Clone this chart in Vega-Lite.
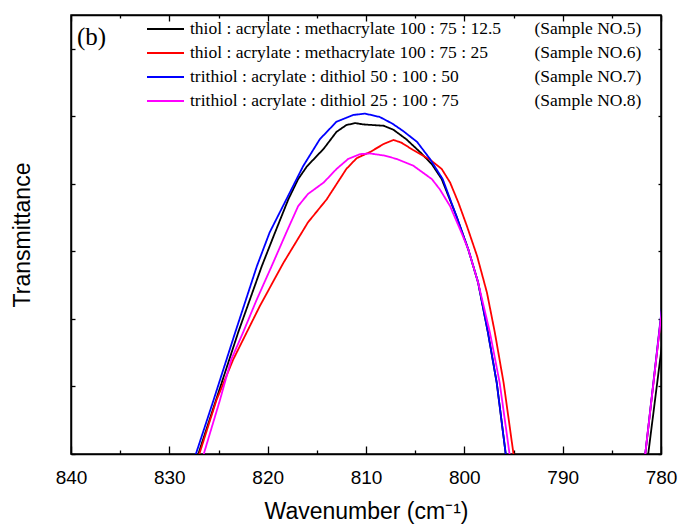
{
  "$schema": "https://vega.github.io/schema/vega-lite/v6.json",
  "width": 590,
  "height": 439,
  "autosize": {"type": "none"},
  "padding": {"left": 71, "top": 15, "right": 18, "bottom": 71},
  "background": "white",
  "config": {
    "view": {"stroke": "black", "strokeWidth": 1.5},
    "font": "Liberation Sans",
    "axis": {
      "domainColor": "black", "domainWidth": 1.5,
      "tickColor": "black", "tickWidth": 1.3,
      "labelColor": "black", "labelFont": "Liberation Sans", "labelFontSize": 19,
      "titleColor": "black", "titleFont": "Liberation Sans", "titleFontSize": 23, "titleFontWeight": "normal",
      "grid": false
    }
  },
  "title": {
    "text": "(b)", "font": "Liberation Serif", "fontSize": 25, "fontWeight": "normal",
    "color": "black", "anchor": "start", "frame": "group", "offset": 0, "dx": 6, "dy": 36
  },
  "data": {
    "values": [
      {"s": "thiol : acrylate : methacrylate 100 : 75 : 12.5", "n": "(Sample NO.5)", "w": 829, "t": -0.9},
      {"s": "thiol : acrylate : methacrylate 100 : 75 : 12.5", "n": "(Sample NO.5)", "w": 827.05, "t": 0},
      {"s": "thiol : acrylate : methacrylate 100 : 75 : 12.5", "n": "(Sample NO.5)", "w": 825.25, "t": 0.8},
      {"s": "thiol : acrylate : methacrylate 100 : 75 : 12.5", "n": "(Sample NO.5)", "w": 823.0, "t": 1.8},
      {"s": "thiol : acrylate : methacrylate 100 : 75 : 12.5", "n": "(Sample NO.5)", "w": 820.6, "t": 2.78},
      {"s": "thiol : acrylate : methacrylate 100 : 75 : 12.5", "n": "(Sample NO.5)", "w": 819.25, "t": 3.28},
      {"s": "thiol : acrylate : methacrylate 100 : 75 : 12.5", "n": "(Sample NO.5)", "w": 817.9, "t": 3.77},
      {"s": "thiol : acrylate : methacrylate 100 : 75 : 12.5", "n": "(Sample NO.5)", "w": 816.9, "t": 4.07},
      {"s": "thiol : acrylate : methacrylate 100 : 75 : 12.5", "n": "(Sample NO.5)", "w": 816.0, "t": 4.26},
      {"s": "thiol : acrylate : methacrylate 100 : 75 : 12.5", "n": "(Sample NO.5)", "w": 814.3, "t": 4.52},
      {"s": "thiol : acrylate : methacrylate 100 : 75 : 12.5", "n": "(Sample NO.5)", "w": 813.0, "t": 4.77},
      {"s": "thiol : acrylate : methacrylate 100 : 75 : 12.5", "n": "(Sample NO.5)", "w": 812.0, "t": 4.87},
      {"s": "thiol : acrylate : methacrylate 100 : 75 : 12.5", "n": "(Sample NO.5)", "w": 811.1, "t": 4.9},
      {"s": "thiol : acrylate : methacrylate 100 : 75 : 12.5", "n": "(Sample NO.5)", "w": 810.3, "t": 4.88},
      {"s": "thiol : acrylate : methacrylate 100 : 75 : 12.5", "n": "(Sample NO.5)", "w": 808.2, "t": 4.86},
      {"s": "thiol : acrylate : methacrylate 100 : 75 : 12.5", "n": "(Sample NO.5)", "w": 807.2, "t": 4.8},
      {"s": "thiol : acrylate : methacrylate 100 : 75 : 12.5", "n": "(Sample NO.5)", "w": 805.9, "t": 4.66},
      {"s": "thiol : acrylate : methacrylate 100 : 75 : 12.5", "n": "(Sample NO.5)", "w": 804.5, "t": 4.47},
      {"s": "thiol : acrylate : methacrylate 100 : 75 : 12.5", "n": "(Sample NO.5)", "w": 803.3, "t": 4.29},
      {"s": "thiol : acrylate : methacrylate 100 : 75 : 12.5", "n": "(Sample NO.5)", "w": 802.3, "t": 4.07},
      {"s": "thiol : acrylate : methacrylate 100 : 75 : 12.5", "n": "(Sample NO.5)", "w": 800.8, "t": 3.52},
      {"s": "thiol : acrylate : methacrylate 100 : 75 : 12.5", "n": "(Sample NO.5)", "w": 799.6, "t": 3.03},
      {"s": "thiol : acrylate : methacrylate 100 : 75 : 12.5", "n": "(Sample NO.5)", "w": 798.6, "t": 2.54},
      {"s": "thiol : acrylate : methacrylate 100 : 75 : 12.5", "n": "(Sample NO.5)", "w": 797.6, "t": 1.8},
      {"s": "thiol : acrylate : methacrylate 100 : 75 : 12.5", "n": "(Sample NO.5)", "w": 796.7, "t": 1.05},
      {"s": "thiol : acrylate : methacrylate 100 : 75 : 12.5", "n": "(Sample NO.5)", "w": 795.8, "t": 0.01},
      {"s": "thiol : acrylate : methacrylate 100 : 75 : 12.5", "n": "(Sample NO.5)", "w": 795.2, "t": -0.7},
      {"s": "thiol : acrylate : methacrylate 100 : 75 : 12.5", "n": "(Sample NO.5)", "w": 781.9, "t": -0.7},
      {"s": "thiol : acrylate : methacrylate 100 : 75 : 12.5", "n": "(Sample NO.5)", "w": 781.3, "t": 0},
      {"s": "thiol : acrylate : methacrylate 100 : 75 : 12.5", "n": "(Sample NO.5)", "w": 780.0, "t": 1.5},
      {"s": "thiol : acrylate : methacrylate 100 : 75 : 12.5", "n": "(Sample NO.5)", "w": 779.5, "t": 2.08},

      {"s": "thiol : acrylate : methacrylate 100 : 75 : 25", "n": "(Sample NO.6)", "w": 829, "t": -0.9},
      {"s": "thiol : acrylate : methacrylate 100 : 75 : 25", "n": "(Sample NO.6)", "w": 826.95, "t": 0},
      {"s": "thiol : acrylate : methacrylate 100 : 75 : 25", "n": "(Sample NO.6)", "w": 825.2, "t": 0.8},
      {"s": "thiol : acrylate : methacrylate 100 : 75 : 25", "n": "(Sample NO.6)", "w": 823.5, "t": 1.4},
      {"s": "thiol : acrylate : methacrylate 100 : 75 : 25", "n": "(Sample NO.6)", "w": 820.8, "t": 2.19},
      {"s": "thiol : acrylate : methacrylate 100 : 75 : 25", "n": "(Sample NO.6)", "w": 818.4, "t": 2.83},
      {"s": "thiol : acrylate : methacrylate 100 : 75 : 25", "n": "(Sample NO.6)", "w": 815.9, "t": 3.43},
      {"s": "thiol : acrylate : methacrylate 100 : 75 : 25", "n": "(Sample NO.6)", "w": 814.0, "t": 3.77},
      {"s": "thiol : acrylate : methacrylate 100 : 75 : 25", "n": "(Sample NO.6)", "w": 812.0, "t": 4.22},
      {"s": "thiol : acrylate : methacrylate 100 : 75 : 25", "n": "(Sample NO.6)", "w": 810.95, "t": 4.38},
      {"s": "thiol : acrylate : methacrylate 100 : 75 : 25", "n": "(Sample NO.6)", "w": 809.6, "t": 4.47},
      {"s": "thiol : acrylate : methacrylate 100 : 75 : 25", "n": "(Sample NO.6)", "w": 808.2, "t": 4.59},
      {"s": "thiol : acrylate : methacrylate 100 : 75 : 25", "n": "(Sample NO.6)", "w": 807.2, "t": 4.65},
      {"s": "thiol : acrylate : methacrylate 100 : 75 : 25", "n": "(Sample NO.6)", "w": 806.4, "t": 4.61},
      {"s": "thiol : acrylate : methacrylate 100 : 75 : 25", "n": "(Sample NO.6)", "w": 805.2, "t": 4.5},
      {"s": "thiol : acrylate : methacrylate 100 : 75 : 25", "n": "(Sample NO.6)", "w": 803.5, "t": 4.36},
      {"s": "thiol : acrylate : methacrylate 100 : 75 : 25", "n": "(Sample NO.6)", "w": 802.3, "t": 4.22},
      {"s": "thiol : acrylate : methacrylate 100 : 75 : 25", "n": "(Sample NO.6)", "w": 801.45, "t": 4.02},
      {"s": "thiol : acrylate : methacrylate 100 : 75 : 25", "n": "(Sample NO.6)", "w": 800.6, "t": 3.72},
      {"s": "thiol : acrylate : methacrylate 100 : 75 : 25", "n": "(Sample NO.6)", "w": 799.75, "t": 3.38},
      {"s": "thiol : acrylate : methacrylate 100 : 75 : 25", "n": "(Sample NO.6)", "w": 798.7, "t": 2.93},
      {"s": "thiol : acrylate : methacrylate 100 : 75 : 25", "n": "(Sample NO.6)", "w": 797.7, "t": 2.39},
      {"s": "thiol : acrylate : methacrylate 100 : 75 : 25", "n": "(Sample NO.6)", "w": 796.9, "t": 1.8},
      {"s": "thiol : acrylate : methacrylate 100 : 75 : 25", "n": "(Sample NO.6)", "w": 796.0, "t": 1.05},
      {"s": "thiol : acrylate : methacrylate 100 : 75 : 25", "n": "(Sample NO.6)", "w": 795.0, "t": 0},
      {"s": "thiol : acrylate : methacrylate 100 : 75 : 25", "n": "(Sample NO.6)", "w": 794.4, "t": -0.7},
      {"s": "thiol : acrylate : methacrylate 100 : 75 : 25", "n": "(Sample NO.6)", "w": 782.2, "t": -0.75},
      {"s": "thiol : acrylate : methacrylate 100 : 75 : 25", "n": "(Sample NO.6)", "w": 781.6, "t": 0},
      {"s": "thiol : acrylate : methacrylate 100 : 75 : 25", "n": "(Sample NO.6)", "w": 780.0, "t": 2.02},
      {"s": "thiol : acrylate : methacrylate 100 : 75 : 25", "n": "(Sample NO.6)", "w": 779.5, "t": 2.65},

      {"s": "trithiol : acrylate : dithiol 50 : 100 : 50", "n": "(Sample NO.7)", "w": 829, "t": -0.75},
      {"s": "trithiol : acrylate : dithiol 50 : 100 : 50", "n": "(Sample NO.7)", "w": 827.3, "t": 0},
      {"s": "trithiol : acrylate : dithiol 50 : 100 : 50", "n": "(Sample NO.7)", "w": 825.5, "t": 0.8},
      {"s": "trithiol : acrylate : dithiol 50 : 100 : 50", "n": "(Sample NO.7)", "w": 823.3, "t": 1.8},
      {"s": "trithiol : acrylate : dithiol 50 : 100 : 50", "n": "(Sample NO.7)", "w": 821.1, "t": 2.78},
      {"s": "trithiol : acrylate : dithiol 50 : 100 : 50", "n": "(Sample NO.7)", "w": 819.8, "t": 3.28},
      {"s": "trithiol : acrylate : dithiol 50 : 100 : 50", "n": "(Sample NO.7)", "w": 818.1, "t": 3.77},
      {"s": "trithiol : acrylate : dithiol 50 : 100 : 50", "n": "(Sample NO.7)", "w": 816.4, "t": 4.26},
      {"s": "trithiol : acrylate : dithiol 50 : 100 : 50", "n": "(Sample NO.7)", "w": 814.7, "t": 4.66},
      {"s": "trithiol : acrylate : dithiol 50 : 100 : 50", "n": "(Sample NO.7)", "w": 813.0, "t": 4.92},
      {"s": "trithiol : acrylate : dithiol 50 : 100 : 50", "n": "(Sample NO.7)", "w": 811.3, "t": 5.02},
      {"s": "trithiol : acrylate : dithiol 50 : 100 : 50", "n": "(Sample NO.7)", "w": 810.1, "t": 5.04},
      {"s": "trithiol : acrylate : dithiol 50 : 100 : 50", "n": "(Sample NO.7)", "w": 808.6, "t": 4.99},
      {"s": "trithiol : acrylate : dithiol 50 : 100 : 50", "n": "(Sample NO.7)", "w": 807.3, "t": 4.89},
      {"s": "trithiol : acrylate : dithiol 50 : 100 : 50", "n": "(Sample NO.7)", "w": 806.2, "t": 4.78},
      {"s": "trithiol : acrylate : dithiol 50 : 100 : 50", "n": "(Sample NO.7)", "w": 804.8, "t": 4.62},
      {"s": "trithiol : acrylate : dithiol 50 : 100 : 50", "n": "(Sample NO.7)", "w": 803.5, "t": 4.37},
      {"s": "trithiol : acrylate : dithiol 50 : 100 : 50", "n": "(Sample NO.7)", "w": 802.2, "t": 4.07},
      {"s": "trithiol : acrylate : dithiol 50 : 100 : 50", "n": "(Sample NO.7)", "w": 800.8, "t": 3.52},
      {"s": "trithiol : acrylate : dithiol 50 : 100 : 50", "n": "(Sample NO.7)", "w": 799.6, "t": 3.03},
      {"s": "trithiol : acrylate : dithiol 50 : 100 : 50", "n": "(Sample NO.7)", "w": 798.6, "t": 2.54},
      {"s": "trithiol : acrylate : dithiol 50 : 100 : 50", "n": "(Sample NO.7)", "w": 797.6, "t": 1.8},
      {"s": "trithiol : acrylate : dithiol 50 : 100 : 50", "n": "(Sample NO.7)", "w": 796.7, "t": 1.05},
      {"s": "trithiol : acrylate : dithiol 50 : 100 : 50", "n": "(Sample NO.7)", "w": 795.8, "t": 0.01},
      {"s": "trithiol : acrylate : dithiol 50 : 100 : 50", "n": "(Sample NO.7)", "w": 795.2, "t": -0.7},
      {"s": "trithiol : acrylate : dithiol 50 : 100 : 50", "n": "(Sample NO.7)", "w": 782.2, "t": -0.75},
      {"s": "trithiol : acrylate : dithiol 50 : 100 : 50", "n": "(Sample NO.7)", "w": 781.6, "t": 0},
      {"s": "trithiol : acrylate : dithiol 50 : 100 : 50", "n": "(Sample NO.7)", "w": 780.0, "t": 2.05},
      {"s": "trithiol : acrylate : dithiol 50 : 100 : 50", "n": "(Sample NO.7)", "w": 779.5, "t": 2.68},

      {"s": "trithiol : acrylate : dithiol 25 : 100 : 75", "n": "(Sample NO.8)", "w": 828.6, "t": -1.0},
      {"s": "trithiol : acrylate : dithiol 25 : 100 : 75", "n": "(Sample NO.8)", "w": 826.5, "t": 0},
      {"s": "trithiol : acrylate : dithiol 25 : 100 : 75", "n": "(Sample NO.8)", "w": 824.85, "t": 0.8},
      {"s": "trithiol : acrylate : dithiol 25 : 100 : 75", "n": "(Sample NO.8)", "w": 823.7, "t": 1.4},
      {"s": "trithiol : acrylate : dithiol 25 : 100 : 75", "n": "(Sample NO.8)", "w": 822.5, "t": 1.8},
      {"s": "trithiol : acrylate : dithiol 25 : 100 : 75", "n": "(Sample NO.8)", "w": 821.1, "t": 2.29},
      {"s": "trithiol : acrylate : dithiol 25 : 100 : 75", "n": "(Sample NO.8)", "w": 819.6, "t": 2.78},
      {"s": "trithiol : acrylate : dithiol 25 : 100 : 75", "n": "(Sample NO.8)", "w": 818.1, "t": 3.28},
      {"s": "trithiol : acrylate : dithiol 25 : 100 : 75", "n": "(Sample NO.8)", "w": 816.9, "t": 3.67},
      {"s": "trithiol : acrylate : dithiol 25 : 100 : 75", "n": "(Sample NO.8)", "w": 815.9, "t": 3.85},
      {"s": "trithiol : acrylate : dithiol 25 : 100 : 75", "n": "(Sample NO.8)", "w": 814.3, "t": 4.02},
      {"s": "trithiol : acrylate : dithiol 25 : 100 : 75", "n": "(Sample NO.8)", "w": 813.0, "t": 4.22},
      {"s": "trithiol : acrylate : dithiol 25 : 100 : 75", "n": "(Sample NO.8)", "w": 811.8, "t": 4.37},
      {"s": "trithiol : acrylate : dithiol 25 : 100 : 75", "n": "(Sample NO.8)", "w": 810.6, "t": 4.44},
      {"s": "trithiol : acrylate : dithiol 25 : 100 : 75", "n": "(Sample NO.8)", "w": 809.6, "t": 4.45},
      {"s": "trithiol : acrylate : dithiol 25 : 100 : 75", "n": "(Sample NO.8)", "w": 808.2, "t": 4.42},
      {"s": "trithiol : acrylate : dithiol 25 : 100 : 75", "n": "(Sample NO.8)", "w": 806.9, "t": 4.37},
      {"s": "trithiol : acrylate : dithiol 25 : 100 : 75", "n": "(Sample NO.8)", "w": 805.2, "t": 4.27},
      {"s": "trithiol : acrylate : dithiol 25 : 100 : 75", "n": "(Sample NO.8)", "w": 803.3, "t": 4.07},
      {"s": "trithiol : acrylate : dithiol 25 : 100 : 75", "n": "(Sample NO.8)", "w": 802.5, "t": 3.92},
      {"s": "trithiol : acrylate : dithiol 25 : 100 : 75", "n": "(Sample NO.8)", "w": 801.45, "t": 3.67},
      {"s": "trithiol : acrylate : dithiol 25 : 100 : 75", "n": "(Sample NO.8)", "w": 800.3, "t": 3.28},
      {"s": "trithiol : acrylate : dithiol 25 : 100 : 75", "n": "(Sample NO.8)", "w": 799.6, "t": 3.03},
      {"s": "trithiol : acrylate : dithiol 25 : 100 : 75", "n": "(Sample NO.8)", "w": 798.6, "t": 2.54},
      {"s": "trithiol : acrylate : dithiol 25 : 100 : 75", "n": "(Sample NO.8)", "w": 797.4, "t": 1.8},
      {"s": "trithiol : acrylate : dithiol 25 : 100 : 75", "n": "(Sample NO.8)", "w": 796.4, "t": 1.05},
      {"s": "trithiol : acrylate : dithiol 25 : 100 : 75", "n": "(Sample NO.8)", "w": 795.4, "t": 0},
      {"s": "trithiol : acrylate : dithiol 25 : 100 : 75", "n": "(Sample NO.8)", "w": 794.8, "t": -0.7},
      {"s": "trithiol : acrylate : dithiol 25 : 100 : 75", "n": "(Sample NO.8)", "w": 782.2, "t": -0.75},
      {"s": "trithiol : acrylate : dithiol 25 : 100 : 75", "n": "(Sample NO.8)", "w": 781.6, "t": 0},
      {"s": "trithiol : acrylate : dithiol 25 : 100 : 75", "n": "(Sample NO.8)", "w": 780.0, "t": 2.02},
      {"s": "trithiol : acrylate : dithiol 25 : 100 : 75", "n": "(Sample NO.8)", "w": 779.5, "t": 2.65}
    ]
  },
  "layer": [
    {
      "mark": {"type": "line", "clip": true, "strokeWidth": 1.8},
      "encoding": {
        "x": {
          "field": "w", "type": "quantitative",
          "scale": {"domain": [780, 840], "reverse": true, "nice": false, "zero": false},
          "axis": {
            "orient": "bottom",
            "title": "Wavenumber (cm⁻¹)",
            "values": [840, 835, 830, 825, 820, 815, 810, 805, 800, 795, 790, 785, 780],
            "labelExpr": "datum.value % 10 === 0 ? datum.label : ''",
            "tickSize": {"condition": {"test": "datum.value % 10 === 0", "value": -8}, "value": -4},
            "labelPadding": 22,
            "labelFlush": false,
            "titlePadding": 13
          }
        },
        "y": {
          "field": "t", "type": "quantitative",
          "scale": {"domain": [0, 6.5], "nice": false, "zero": false},
          "axis": {
            "orient": "left",
            "title": "Transmittance",
            "values": [0, 1, 2, 3, 4, 5, 6],
            "labels": false,
            "tickSize": -4,
            "titlePadding": 36
          }
        },
        "color": {
          "field": "s", "type": "nominal",
          "scale": {
            "domain": [
              "thiol : acrylate : methacrylate 100 : 75 : 12.5",
              "thiol : acrylate : methacrylate 100 : 75 : 25",
              "trithiol : acrylate : dithiol 50 : 100 : 50",
              "trithiol : acrylate : dithiol 25 : 100 : 75"
            ],
            "range": ["#000000", "#ff0000", "#0000ff", "#ff00ff"]
          },
          "legend": {
            "orient": "none", "legendX": 75, "legendY": 2, "title": null,
            "symbolType": "stroke", "symbolSize": 1369, "symbolStrokeWidth": 1.8,
            "labelFont": "Liberation Serif", "labelFontSize": 17.5, "labelColor": "black",
            "labelLimit": 600, "labelOffset": 5, "clipHeight": 24, "rowPadding": 0, "padding": 0
          }
        },
        "strokeDash": {
          "field": "n", "type": "nominal",
          "scale": {
            "domain": ["(Sample NO.5)", "(Sample NO.6)", "(Sample NO.7)", "(Sample NO.8)"],
            "range": [[1, 0], [1, 0], [1, 0], [1, 0]]
          },
          "legend": {
            "orient": "none", "legendX": 446, "legendY": 2, "title": null,
            "symbolType": "stroke", "symbolSize": 1, "symbolOpacity": 0, "symbolStrokeWidth": 0,
            "labelFont": "Liberation Serif", "labelFontSize": 17.5, "labelColor": "black",
            "labelLimit": 600, "labelOffset": 0, "clipHeight": 24, "rowPadding": 0, "padding": 0
          }
        }
      }
    },
    {
      "mark": {"type": "line", "clip": true, "strokeOpacity": 0},
      "encoding": {
        "x": {
          "field": "w", "type": "quantitative",
          "axis": {
            "orient": "top", "title": null, "labels": false,
            "values": [840, 835, 830, 825, 820, 815, 810, 805, 800, 795, 790, 785, 780],
            "tickSize": {"condition": {"test": "datum.value % 10 === 0", "value": -6}, "value": -3}
          }
        },
        "y": {
          "field": "t", "type": "quantitative",
          "axis": {
            "orient": "right", "title": null, "labels": false,
            "values": [0, 1, 2, 3, 4, 5, 6],
            "tickSize": -3
          }
        },
        "detail": {"field": "s", "type": "nominal"}
      }
    }
  ],
  "resolve": {"axis": {"x": "independent", "y": "independent"}}
}
